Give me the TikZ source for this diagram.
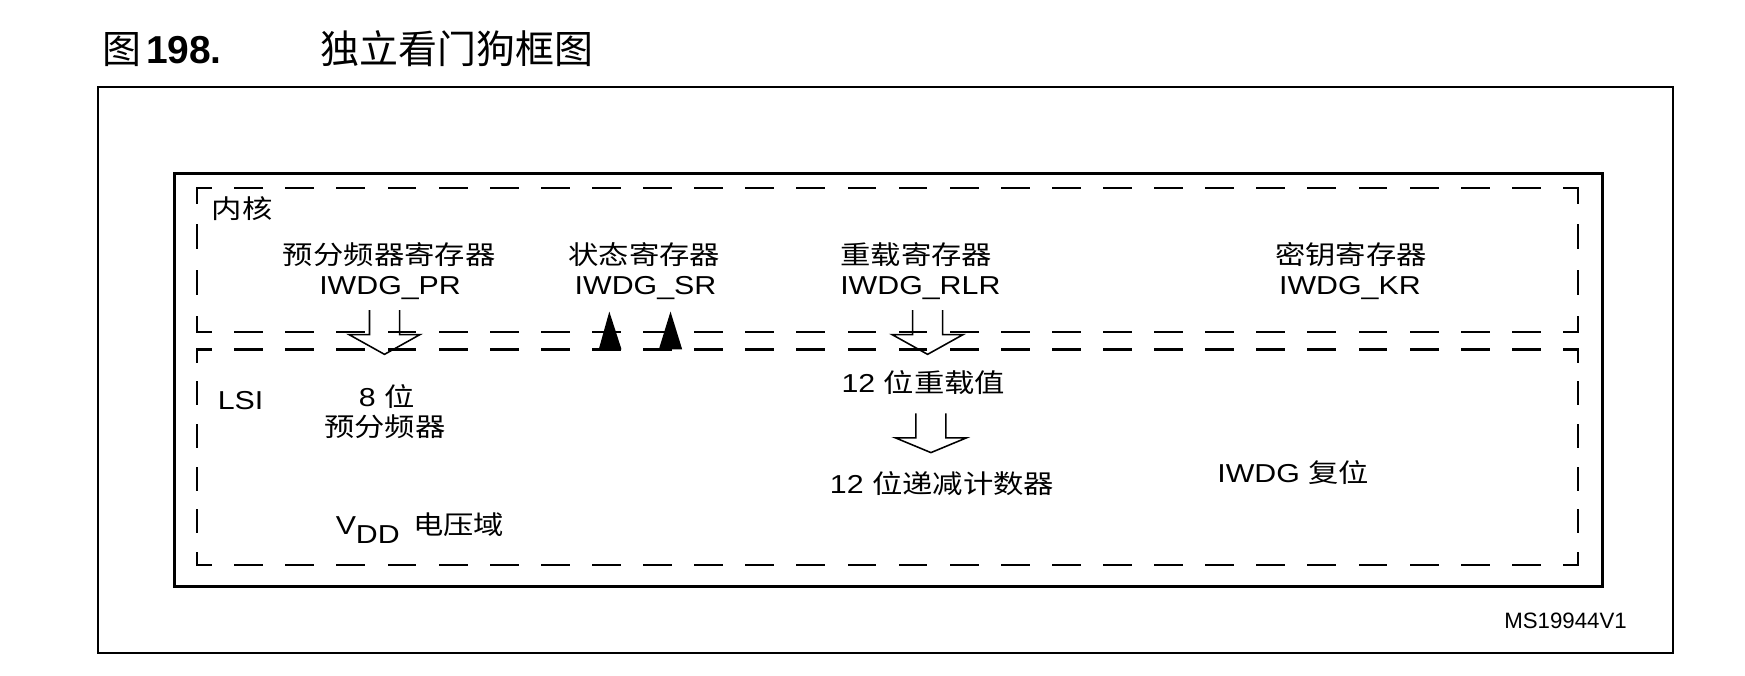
\documentclass[tikz,border=0pt]{standalone}
\usepackage{fontspec}
\setmainfont{Liberation Sans}
\newfontfamily\dgm[FakeStretch=1.17]{Liberation Sans}
\newfontfamily\cjkd[FakeStretch=1.17]{Noto Sans CJK SC}
\newfontfamily\cjkt{Noto Sans CJK SC}
\newcommand\cjd[1]{{\cjkd #1}}
\begin{document}
\begin{tikzpicture}[x=1pt,y=-1pt,
  txt/.style={font=\dgm\fontsize{23.3}{28}\selectfont, inner sep=0pt, anchor=base},
  ttl/.style={inner sep=0pt, anchor=base west},
  outerframe/.style={line width=1.6pt},
  thickframe/.style={line width=3pt},
  dashH/.style={line width=2pt, line cap=rect, dash pattern=on 23.92pt off 22pt, dash phase=11.42pt},
  dashVk/.style={line width=2pt, line cap=rect, dash pattern=on 20.5pt off 20.667pt, dash phase=7.5pt},
  dashVl/.style={line width=2pt, line cap=rect, dash pattern=on 19.5pt off 18.8pt, dash phase=8.5pt},
  arrowline/.style={line width=1.4pt, line join=miter},
  uptri/.style={fill=black},
  hollowarrow/.pic={\draw[arrowline] (-13.5,0) -- (-13.5,22) -- (-32,22) -- (0,#1) -- (32,22) -- (13.5,22) -- (13.5,0);}
]
\useasboundingbox (0,0) rectangle (1568,607);

% title
\node[ttl, font=\cjkt\fontsize{35}{40}\selectfont] (figlbl) at (92,57) {图};
\node[ttl, font=\fontsize{35}{40}\selectfont\bfseries] (fignum) at (131,57) {198.};
\node[ttl, font=\cjkt\fontsize{35}{40}\selectfont] (title) at (288,57) {独立看门狗框图};

% frames
\draw[outerframe] (88,78) rectangle (1503,587);
\draw[thickframe] (157,156) rectangle (1440,527);

% dashed domains
\coordinate (k1) at (177,169);
\coordinate (k2) at (1418,169);
\coordinate (k3) at (1418,298);
\coordinate (k4) at (177,298);
\coordinate (l1) at (177,314);
\coordinate (l2) at (1418,314);
\coordinate (l3) at (1418,508);
\coordinate (l4) at (177,508);
\draw[dashH] (k1) -- (k2);
\draw[dashH] (k4) -- (k3);
\draw[dashVk] (k1) -- (k4);
\draw[dashVk] (k2) -- (k3);
\draw[dashH] (l1) -- (l2);
\draw[dashH] (l4) -- (l3);
\draw[dashVl] (l1) -- (l4);
\draw[dashVl] (l2) -- (l3);

% texts
\node[txt, anchor=base west] (core) at (190,196) {\cjd{内核}};
\node[txt] (prcn) at (349.7,238) {\cjd{预分频器寄存器}};
\node[txt] (pr) at (350.5,265) {IWDG\_PR};
\node[txt] (srcn) at (579,238) {\cjd{状态寄存器}};
\node[txt] (sr) at (580,265) {IWDG\_SR};
\node[txt] (rlrcn) at (823.4,238) {\cjd{重载寄存器}};
\node[txt] (rlr) at (827,265) {IWDG\_RLR};
\node[txt] (krcn) at (1214,238) {\cjd{密钥寄存器}};
\node[txt] (kr) at (1213,265) {IWDG\_KR};

\node[txt, anchor=base west] (lsi) at (195.5,368.4) {LSI};
\node[txt] (pre8) at (347.5,365) {8 \cjd{位}};
\node[txt] (precn) at (345.7,392.5) {\cjd{预分频器}};
\node[txt, anchor=base west] (vdd) at (301.5,480.7) {V\raisebox{-7.5pt}{DD}\hspace{12pt}\cjd{电压域}};
\node[txt] (rl12) at (829.7,352.5) {12 \cjd{位重载值}};
\node[txt] (cnt12) at (846.5,443.5) {12 \cjd{位递减计数器}};
\node[txt] (rst) at (1162,433.5) {IWDG \cjd{复位}};
\node[anchor=base east, inner sep=0pt, font=\fontsize{20}{24}\selectfont] (ms) at (1462,564.6) {MS19944V1};

% arrows
\pic at (345.5,278.6) {hollowarrow=39.8};
\pic at (833.5,278.6) {hollowarrow=39.8};
\pic at (836.5,371.4) {hollowarrow=35.3};
\fill[uptri] (538,314) -- (547.5,280) -- (558.5,314) -- cycle;
\fill[uptri] (592,314) -- (602.5,280) -- (613,314) -- cycle;
\end{tikzpicture}
\end{document}
